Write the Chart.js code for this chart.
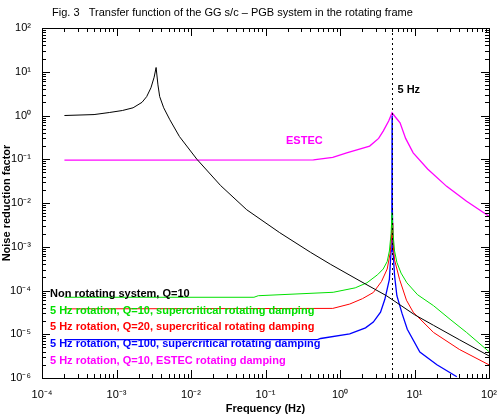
<!DOCTYPE html>
<html>
<head>
<meta charset="utf-8">
<script src="https://cdn.jsdelivr.net/npm/chart.js@4"></script>
<style>
  html, body { margin: 0; padding: 0; background: #fff; }
  #wrap { width: 504px; height: 416px; }
</style>
</head>
<body>
<div id="wrap"><canvas id="myChart"></canvas></div>
<script>
// values: [frequency Hz, reduction factor]
const nonRotating = [[2e-4,1.0],[5e-4,1.05],[8e-4,1.17],[1.2e-3,1.3],[1.67e-3,1.5],[2.2e-3,2.0],[2.54e-3,2.7],[2.9e-3,4.3],[3.2e-3,7.5],[3.4e-3,12.5],[3.6e-3,5],[3.8e-3,2.7],[4.3e-3,1.5],[5.2e-3,0.8],[7e-3,0.33],[1.2e-2,0.1],[2.5e-2,0.025],[5.6e-2,7e-3],[0.155,2.1e-3],[0.4,7.5e-4],[0.74,4e-4],[1.8,1.7e-4],[4.2,7.6e-5],[10,2.8e-5],[18,1.6e-5],[40,7.5e-6],[100,3.2e-6]];
const green10 = [[2e-4,7e-5],[0.07,7e-5],[0.08,7.6e-5],[0.81,9.1e-5],[1.6,1.15e-4],[2.3,1.5e-4],[3.2,2.3e-4],[3.8,3.1e-4],[4.3,4.6e-4],[4.6,8e-4],[4.85,2e-3],[5.0,6e-3],[5.15,2e-3],[5.4,8e-4],[5.8,4.4e-4],[6.6,2.5e-4],[7.9,1.5e-4],[11,8e-5],[18,4.5e-5],[30,2.2e-5],[50,1.1e-5],[100,4e-6]];
const red20 = [[2e-4,3.8e-5],[0.8,3.9e-5],[1.35,4.9e-5],[2.0,6.5e-5],[2.8,9e-5],[3.6,1.6e-4],[4.3,3.1e-4],[4.7,7e-4],[4.9,1.6e-3],[5.0,3.5e-3],[5.1,1.6e-3],[5.4,5e-4],[6.3,1.8e-4],[7.8,6e-5],[9.6,3.2e-5],[18,1.1e-5],[40,4.5e-6],[100,2e-6]];
const blue100 = [[2e-4,7.5e-6],[0.5,7.5e-6],[0.55,8e-6],[1.35,1.02e-5],[2.2,1.4e-5],[2.8,1.9e-5],[3.5,3.2e-5],[4.0,6.3e-5],[4.6,1.8e-4],[4.85,8e-4],[4.97,1e-2],[5.0,1.0],[5.03,1e-2],[5.15,8e-4],[5.4,2.2e-4],[5.8,7.6e-5],[6.8,3e-5],[8,1.3e-5],[11.8,3.9e-6],[20,2e-6],[37,1.07e-6]];
const estec = [[2e-4,0.095],[0.44,0.097],[0.8,0.11],[1.23,0.14],[2.5,0.2],[3.3,0.3],[3.8,0.44],[4.5,0.75],[5.0,1.15],[5.6,0.9],[6.4,0.68],[7.6,0.3],[9.6,0.14],[15,0.06],[27,0.024],[50,0.011],[100,5e-3]];
const xDecades = [-4, -3, -2, -1, 0, 1, 2];
const yDecades = [-6, -5, -4, -3, -2, -1, 0, 1, 2];
const legendLabels = [
  ['Non rotating system, Q=10', '#000000'],
  ['5 Hz rotation, Q=10, supercritical rotating damping', '#00e000'],
  ['5 Hz rotation, Q=20, supercritical rotating damping', '#ff0000'],
  ['5 Hz rotation, Q=100, supercritical rotating damping', '#0000ff'],
  ['5 Hz rotation, Q=10, ESTEC rotating damping', '#ff00ff']
];

const sup = { '-': '\u207b', '0': '\u2070', '1': '\u00b9', '2': '\u00b2', '3': '\u00b3', '4': '\u2074', '5': '\u2075', '6': '\u2076' };
const pow10 = e => '10' + String(e).split('').map(c => sup[c]).join('');
const pts = arr => arr.map(p => ({ x: p[0], y: p[1] }));
const font = '"Liberation Sans", Arial, sans-serif';

const decor = {
  id: 'decor',
  afterDraw(chart) {
    const { ctx, chartArea: a, scales: { x, y } } = chart;
    ctx.save();
    ctx.strokeStyle = '#000';
    ctx.lineWidth = 1;
    ctx.strokeRect(a.left + 0.5, a.top + 0.5, a.right - a.left, a.bottom - a.top);
    ctx.beginPath();
    xDecades.forEach(d => {
      for (let k = 1; k < 10; k++) {
        const v = k * Math.pow(10, d);
        if (v > 100) break;
        const px = Math.round(x.getPixelForValue(v)) + 0.5;
        const len = k === 1 ? 8 : 4;
        ctx.moveTo(px, a.bottom); ctx.lineTo(px, a.bottom - len);
        ctx.moveTo(px, a.top); ctx.lineTo(px, a.top + len);
      }
    });
    yDecades.forEach(d => {
      for (let k = 1; k < 10; k++) {
        const v = k * Math.pow(10, d);
        if (v > 100) break;
        const py = Math.round(y.getPixelForValue(v)) + 0.5;
        const len = k === 1 ? 8 : 4;
        ctx.moveTo(a.left, py); ctx.lineTo(a.left + len, py);
        ctx.moveTo(a.right, py); ctx.lineTo(a.right - len, py);
      }
    });
    ctx.stroke();
    // 5 Hz marker
    const x5 = Math.round(x.getPixelForValue(5)) + 0.5;
    ctx.setLineDash([2, 3]);
    ctx.beginPath();
    ctx.moveTo(x5, a.top); ctx.lineTo(x5, a.bottom);
    ctx.stroke();
    ctx.setLineDash([]);
    ctx.font = 'bold 11px ' + font;
    ctx.fillStyle = '#000';
    ctx.textBaseline = 'middle';
    ctx.fillText('5 Hz', x5 + 5, 90);
    ctx.fillStyle = '#ff00ff';
    ctx.fillText('ESTEC', 286, 141);
    legendLabels.forEach((l, i) => {
      ctx.fillStyle = l[1];
      ctx.fillText(l[0], 50, 294 + i * 16.7);
    });
    ctx.fillStyle = '#000';
    ctx.font = '11px ' + font;
    ctx.fillText('Fig. 3   Transfer function of the GG s/c \u2013 PGB system in the rotating frame', 52, 13);
    ctx.restore();
  }
};

const line = (data, color, w) => ({ data: pts(data), borderColor: color, borderWidth: w || 1, showLine: true, pointRadius: 0, tension: 0 });

new Chart(document.getElementById('myChart'), {
  type: 'scatter',
  data: {
    datasets: [
      line(nonRotating, '#000000'),
      line(estec, '#ff00ff', 1.3),
      line(green10, '#00e000'),
      line(red20, '#ff0000'),
      line(blue100, '#0000ff', 1.3)
    ]
  },
  options: {
    responsive: true,
    maintainAspectRatio: false,
    animation: false,
    layout: { padding: { top: 28, right: 15, left: 0, bottom: 0 } },
    plugins: { legend: { display: false }, tooltip: { enabled: false } },
    scales: {
      x: {
        type: 'logarithmic', min: 1e-4, max: 100,
        grid: { display: false }, border: { display: false },
        afterBuildTicks: s => { s.ticks = xDecades.map(d => ({ value: Math.pow(10, d) })); },
        afterFit: s => { s.height = 38; },
        ticks: { color: '#000', font: { size: 11, family: font }, padding: 2, maxRotation: 0,
                 callback: v => pow10(Math.round(Math.log10(v))) },
        title: { display: true, text: 'Frequency (Hz)', color: '#000', font: { size: 11, family: font, weight: 'bold' }, padding: 0 }
      },
      y: {
        type: 'logarithmic', min: 1e-6, max: 100,
        grid: { display: false }, border: { display: false },
        afterBuildTicks: s => { s.ticks = yDecades.map(d => ({ value: Math.pow(10, d) })); },
        afterFit: s => { s.width = 42; },
        ticks: { color: '#000', font: { size: 11, family: font }, padding: 3,
                 callback: v => pow10(Math.round(Math.log10(v))) },
        title: { display: true, text: 'Noise reduction factor', color: '#000', font: { size: 11, family: font, weight: 'bold' }, padding: 0 }
      }
    }
  },
  plugins: [decor]
});
</script>
</body>
</html>
